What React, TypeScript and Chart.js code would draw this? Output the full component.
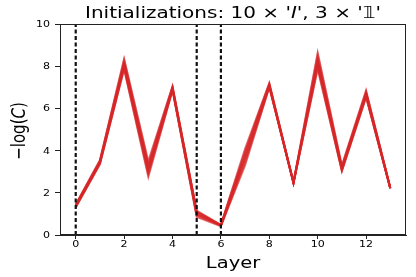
import React, { useEffect, useRef } from "react";
import { Chart, registerables } from "chart.js";

Chart.register(...registerables);

const layers = [0, 1, 2, 3, 4, 5, 6, 7, 8, 9, 10, 11, 12, 13];
const xTicks = [0, 2, 4, 6, 8, 10, 12];
const yTicks = [0, 2, 4, 6, 8, 10];
const dashedLayers = [0, 5, 6];

const run1 = [1.35, 3.40, 8.00, 3.00, 6.90, 1.00, 0.45, 3.60, 7.05, 2.47, 8.10, 3.10, 6.60, 2.22];
const run2 = [1.30, 3.35, 7.85, 2.75, 6.85, 0.85, 0.42, 3.30, 7.00, 2.46, 7.85, 3.02, 6.52, 2.20];
const run3 = [1.45, 3.55, 8.35, 3.50, 7.05, 1.15, 0.48, 4.10, 7.20, 2.50, 8.65, 3.30, 6.85, 2.25];
const run4 = [1.40, 3.50, 8.20, 3.30, 7.00, 1.10, 0.47, 3.90, 7.15, 2.49, 8.40, 3.20, 6.75, 2.23];
const run5 = [1.32, 3.38, 7.90, 2.85, 6.88, 0.90, 0.44, 3.40, 7.02, 2.46, 7.95, 3.05, 6.55, 2.21];
const run6 = [1.38, 3.45, 8.10, 3.15, 6.95, 1.05, 0.46, 3.75, 7.10, 2.48, 8.25, 3.15, 6.70, 2.22];
const run7 = [1.42, 3.48, 8.15, 3.25, 6.98, 1.08, 0.46, 3.85, 7.12, 2.48, 8.30, 3.18, 6.72, 2.23];
const run8 = [1.34, 3.42, 7.95, 2.95, 6.92, 0.95, 0.45, 3.50, 7.05, 2.47, 8.00, 3.08, 6.60, 2.21];
const run9 = [1.36, 3.44, 8.05, 3.10, 6.93, 0.98, 0.45, 3.65, 7.08, 2.47, 8.15, 3.12, 6.65, 2.22];
const run10 = [1.44, 3.52, 8.30, 3.40, 7.02, 1.12, 0.47, 4.00, 7.18, 2.49, 8.55, 3.25, 6.80, 2.24];
const runs = [run1, run2, run3, run4, run5, run6, run7, run8, run9, run10];

const SX = 1.3; // horizontal stretch of text, as in the reference
const FONT = "'DejaVu Sans'";

function drawParts(ctx: any, parts: [string, string][], cx: number, baseY: number) {
  let total = 0;
  for (const [t, f] of parts) {
    ctx.font = f;
    total += ctx.measureText(t).width;
  }
  let x = cx - total / 2;
  ctx.textAlign = "left";
  for (const [t, f] of parts) {
    ctx.font = f;
    ctx.fillText(t, x, baseY);
    x += ctx.measureText(t).width;
  }
}

const textPlugin = {
  id: "customText",
  afterDraw(chart: any) {
    const { ctx, chartArea, scales } = chart;
    const { left, right, top, bottom } = chartArea;
    ctx.save();
    ctx.strokeStyle = "#222";
    ctx.lineWidth = 1;
    ctx.strokeRect(left + 0.5, top + 0.5, right - left - 1, bottom - top - 1);
    ctx.fillStyle = "#000";
    ctx.textBaseline = "alphabetic";

    // title
    ctx.save();
    const tcx = (left + right) / 2;
    ctx.translate(tcx, 18);
    ctx.scale(1.25, 1);
    drawParts(
      ctx,
      [
        ["Initializations: 10 × '", `16px ${FONT}`],
        ["I", `italic 16px ${FONT}`],
        ["', 3 × '", `16px ${FONT}`],
        ["𝟙", `16px ${FONT}`],
        ["'", `16px ${FONT}`],
      ],
      0,
      0
    );
    ctx.restore();

    // x tick labels
    for (const v of xTicks) {
      const px = scales.x.getPixelForValue(v);
      ctx.save();
      ctx.translate(px, 247);
      ctx.scale(SX, 1);
      ctx.font = `8.5px ${FONT}`;
      ctx.textAlign = "center";
      ctx.fillText(String(v), 0, 0);
      ctx.restore();
    }
    // y tick labels
    for (const v of yTicks) {
      const py = scales.y.getPixelForValue(v);
      ctx.save();
      ctx.translate(50, py + 3);
      ctx.scale(SX, 1);
      ctx.font = `8.5px ${FONT}`;
      ctx.textAlign = "right";
      ctx.fillText(String(v), 0, 0);
      ctx.restore();
    }

    // x label
    ctx.save();
    ctx.translate((left + right) / 2, 268);
    ctx.scale(SX, 1);
    ctx.font = `15px ${FONT}`;
    ctx.textAlign = "center";
    ctx.fillText("Layer", 0, 0);
    ctx.restore();

    // y label
    ctx.save();
    ctx.translate(25, 131);
    ctx.rotate(-Math.PI / 2);
    ctx.scale(1, SX);
    drawParts(
      ctx,
      [
        ["−log(", `15px ${FONT}`],
        ["C", `italic 15px ${FONT}`],
        [")", `15px ${FONT}`],
      ],
      0,
      0
    );
    ctx.restore();
    ctx.restore();
  },
};

export default function App() {
  const ref = useRef<HTMLCanvasElement | null>(null);
  useEffect(() => {
    document.body.style.margin = "0";
    if (!ref.current) return;
    const runSets = runs.map((r) => ({
      data: layers.map((l, i) => ({ x: l, y: r[i] })),
      borderColor: "rgba(214,39,40,0.6)",
      borderWidth: 2,
      pointRadius: 0,
      fill: false,
      tension: 0,
    }));
    const dashSets = dashedLayers.map((l) => ({
      data: [
        { x: l, y: 0 },
        { x: l, y: 10 },
      ],
      borderColor: "#111",
      borderWidth: 2.2,
      borderDash: [4, 2.5],
      pointRadius: 0,
      fill: false,
    }));
    const chart = new Chart(ref.current, {
      type: "line",
      data: { datasets: [...dashSets, ...runSets] as any },
      options: {
        animation: false,
        responsive: false,
        maintainAspectRatio: false,
        layout: { padding: { top: 24, right: 10, left: 0, bottom: 0 } },
        plugins: { legend: { display: false }, tooltip: { enabled: false } },
        scales: {
          x: {
            type: "linear",
            min: -0.65,
            max: 13.65,
            afterBuildTicks: (s: any) => {
              s.ticks = xTicks.map((v) => ({ value: v }));
            },
            afterFit: (s: any) => {
              s.height = 42;
            },
            grid: { drawOnChartArea: false, drawTicks: true, tickLength: 4, color: "#222" },
            border: { display: true, color: "#222" },
            ticks: { display: false },
          },
          y: {
            type: "linear",
            min: 0,
            max: 10,
            afterBuildTicks: (s: any) => {
              s.ticks = yTicks.map((v) => ({ value: v }));
            },
            afterFit: (s: any) => {
              s.width = 60;
            },
            grid: { drawOnChartArea: false, drawTicks: true, tickLength: 5, color: "#222" },
            border: { display: true, color: "#222" },
            ticks: { display: false },
          },
        },
      },
      plugins: [textPlugin],
    });
    return () => chart.destroy();
  }, []);
  return (
    <div style={{ width: 416, height: 277 }}>
      <canvas ref={ref} width={416} height={277} style={{ display: "block" }} />
    </div>
  );
}
